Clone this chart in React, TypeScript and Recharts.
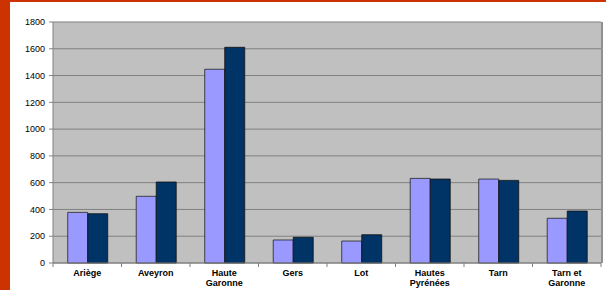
import React from 'react';
import { BarChart, Bar, XAxis, YAxis, CartesianGrid } from 'recharts';

const categories = ['Ariège', 'Aveyron', 'Haute Garonne', 'Gers', 'Lot', 'Hautes Pyrénées', 'Tarn', 'Tarn et Garonne'];
const tickLines = [['Ariège'], ['Aveyron'], ['Haute', 'Garonne'], ['Gers'], ['Lot'], ['Hautes', 'Pyrénées'], ['Tarn'], ['Tarn et', 'Garonne']];
const seriesA = [378, 498, 1447, 172, 164, 632, 627, 334];
const seriesB = [368, 605, 1611, 192, 211, 627, 617, 388];
const yTicks = [0, 200, 400, 600, 800, 1000, 1200, 1400, 1600, 1800];

const data = categories.map((c, i) => ({ name: c, a: seriesA[i], b: seriesB[i] }));

const HALF_BAND = 34.25;

const XTick = (props: any) => {
  const { x, y, payload } = props;
  const idx = categories.indexOf(payload.value);
  const lines = tickLines[idx] || [payload.value];
  return (
    <g>
      <line x1={x + HALF_BAND} x2={x + HALF_BAND} y1={y} y2={y + 4} stroke="#808080" />
      {idx === 0 && <line x1={x - HALF_BAND} x2={x - HALF_BAND} y1={y} y2={y + 4} stroke="#808080" />}
      <text x={x} y={y + 13} textAnchor="middle" fontFamily="Arial, Liberation Sans, sans-serif" fontSize={9} fontWeight="bold" fill="#000">
        {lines.map((l, i) => (
          <tspan key={i} x={x} dy={i === 0 ? 0 : 10}>{l}</tspan>
        ))}
      </text>
    </g>
  );
};

export default function App() {
  return (
    <div style={{ position: 'absolute', left: 0, top: 0, width: 606, height: 290, background: '#fff', overflow: 'hidden' }}>
      <div style={{ position: 'absolute', left: 0, top: 0, width: 606, height: 2, background: '#CC3300' }} />
      <div style={{ position: 'absolute', left: 0, top: 0, width: 10, height: 290, background: '#CC3300' }} />
      <BarChart
        width={606}
        height={290}
        data={data}
        margin={{ top: 22, right: 5, left: 0, bottom: 0 }}
        barCategoryGap="21.5%"
        barGap={0}
      >
        <CartesianGrid vertical={false} stroke="#808080" fill="#C0C0C0" />
        <XAxis
          dataKey="name"
          height={27}
          interval={0}
          tickLine={false}
          tickSize={0}
          tickMargin={0}
          axisLine={{ stroke: '#808080' }}
          tick={<XTick />}
        />
        <YAxis
          width={53}
          domain={[0, 1800]}
          ticks={yTicks}
          interval={0}
          tickSize={4}
          tickMargin={4}
          axisLine={{ stroke: '#808080' }}
          tickLine={{ stroke: '#808080' }}
          tick={{ fontSize: 9, fill: '#000', fontFamily: 'Arial, Liberation Sans, sans-serif' }}
        />
        <Bar dataKey="a" fill="#9999FF" stroke="#222" strokeWidth={0.8} isAnimationActive={false} />
        <Bar dataKey="b" fill="#003366" stroke="#111" strokeWidth={0.8} isAnimationActive={false} />
      </BarChart>
      <div style={{ position: 'absolute', left: 601, top: 22, width: 2, height: 241, background: '#909090' }} />
    </div>
  );
}
